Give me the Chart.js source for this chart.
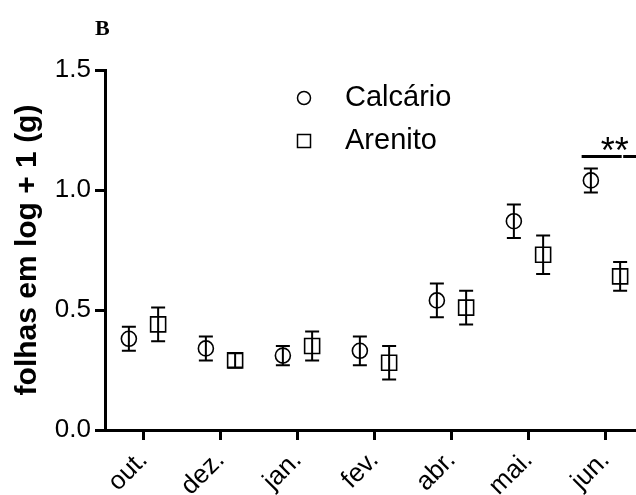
<!DOCTYPE html>
<html>
<head>
<meta charset="utf-8">
<script src="https://cdn.jsdelivr.net/npm/chart.js@4.4.0/dist/chart.umd.min.js"></script>
<style>
  html, body { margin: 0; padding: 0; background: #fff; overflow: hidden; }
  #wrap { position: relative; width: 660px; height: 495px; }
</style>
</head>
<body>
<div id="wrap"><canvas id="chart" width="660" height="495"></canvas></div>
<script>
// months on the x axis
const months = ['out.', 'dez.', 'jan.', 'fev.', 'abr.', 'mai.', 'jun.'];
// mean and error, log(x+1) of leaf mass
const calcario = [0.38, 0.34, 0.31, 0.33, 0.54, 0.87, 1.04];
const calcarioErr = [0.05, 0.05, 0.04, 0.06, 0.07, 0.07, 0.05];
const arenito = [0.44, 0.29, 0.35, 0.28, 0.51, 0.73, 0.64];
const arenitoErr = [0.07, 0.03, 0.06, 0.07, 0.07, 0.08, 0.06];
const yTicks = [0, 0.5, 1.0, 1.5];
// significance mark over jun.
const sigMonth = 6;
const sigLevel = 1.14;
const sigText = '**';

const shift = 0.19; // side-by-side offset of the two groups
const font = 'Liberation Sans, Arial, sans-serif';

function points(vals, dx) {
    return vals.map((v, i) => ({ x: i + dx, y: v }));
}

const errorBars = {
    id: 'errorBars',
    afterDatasetsDraw(chart) {
        const ctx = chart.ctx;
        const x = chart.scales.x, y = chart.scales.y;
        ctx.save();
        ctx.strokeStyle = '#000';
        ctx.lineWidth = 2;
        chart.data.datasets.forEach(ds => {
            ds.data.forEach((p, j) => {
                const e = ds.errors[j];
                const px = x.getPixelForValue(p.x);
                const top = y.getPixelForValue(p.y + e);
                const bot = y.getPixelForValue(p.y - e);
                ctx.beginPath();
                ctx.moveTo(px, top); ctx.lineTo(px, bot);
                ctx.moveTo(px - 7, top); ctx.lineTo(px + 7, top);
                ctx.moveTo(px - 7, bot); ctx.lineTo(px + 7, bot);
                ctx.stroke();
            });
        });
        ctx.restore();
    }
};

const extras = {
    id: 'extras',
    afterDraw(chart) {
        const ctx = chart.ctx;
        const x = chart.scales.x, y = chart.scales.y;
        ctx.save();
        ctx.fillStyle = '#000';
        ctx.strokeStyle = '#000';

        // panel letter
        ctx.font = 'bold 22px Liberation Serif, Times New Roman, serif';
        ctx.textBaseline = 'alphabetic';
        ctx.textAlign = 'left';
        ctx.fillText('B', 95, 35);

        // legend
        ctx.lineWidth = 1.5;
        ctx.beginPath();
        ctx.arc(304, 98, 6.5, 0, Math.PI * 2);
        ctx.stroke();
        ctx.strokeRect(297.5, 134.5, 13, 13);
        ctx.font = '29px ' + font;
        ctx.textBaseline = 'middle';
        chart.data.datasets.forEach((ds, i) => {
            ctx.fillText(ds.label, 345, 98 + i * 43);
        });

        // significance bar
        const sy = y.getPixelForValue(sigLevel);
        ctx.lineWidth = 3;
        ctx.beginPath();
        ctx.moveTo(x.getPixelForValue(sigMonth - 0.31), sy);
        ctx.lineTo(x.getPixelForValue(sigMonth + 0.21), sy);
        ctx.moveTo(x.getPixelForValue(sigMonth + 0.23), sy);
        ctx.lineTo(x.getPixelForValue(sigMonth + 0.5), sy);
        ctx.stroke();
        ctx.font = '36px ' + font;
        ctx.textAlign = 'center';
        ctx.textBaseline = 'alphabetic';
        ctx.fillText(sigText, x.getPixelForValue(sigMonth + 0.12), sy + 7);
        ctx.restore();
    }
};

new Chart(document.getElementById('chart'), {
    type: 'scatter',
    data: {
        datasets: [
            {
                label: 'Calcário',
                data: points(calcario, -shift),
                errors: calcarioErr,
                pointStyle: 'circle',
                pointRadius: 7.5,
                pointBorderWidth: 1.6,
                pointBorderColor: '#000',
                pointBackgroundColor: 'rgba(0,0,0,0)'
            },
            {
                label: 'Arenito',
                data: points(arenito, shift),
                errors: arenitoErr,
                pointStyle: 'rect',
                pointRadius: 10.6,
                pointBorderWidth: 1.6,
                pointBorderColor: '#000',
                pointBackgroundColor: 'rgba(0,0,0,0)'
            }
        ]
    },
    options: {
        responsive: false,
        animation: false,
        layout: { padding: { top: 70, right: 16, left: 0, bottom: 0 } },
        plugins: {
            legend: { display: false },
            tooltip: { enabled: false }
        },
        scales: {
            x: {
                type: 'linear',
                min: -0.5,
                max: months.length - 0.5,
                afterBuildTicks: s => { s.ticks = months.map((m, i) => ({ value: i })); },
                afterFit: s => { s.height = 65; },
                border: { display: true, color: '#000', width: 3 },
                grid: { drawOnChartArea: false, drawTicks: true, tickLength: 10, tickWidth: 3, tickColor: '#000' },
                ticks: {
                    autoSkip: false,
                    minRotation: 45,
                    maxRotation: 45,
                    padding: 5,
                    color: '#000',
                    font: { family: font, size: 26 },
                    callback: v => months[v]
                }
            },
            y: {
                min: 0,
                max: 1.5,
                afterBuildTicks: s => { s.ticks = yTicks.map(v => ({ value: v })); },
                afterFit: s => { s.width = 105; },
                border: { display: true, color: '#000', width: 3 },
                grid: { drawOnChartArea: false, drawTicks: true, tickLength: 10, tickWidth: 3, tickColor: '#000' },
                ticks: {
                    padding: 4,
                    color: '#000',
                    font: { family: font, size: 26 },
                    callback: v => v.toFixed(1)
                },
                title: {
                    display: true,
                    text: 'folhas em log + 1 (g)',
                    color: '#000',
                    font: { family: font, size: 30, weight: 'bold' },
                    padding: { top: 10, bottom: 0 }
                }
            }
        }
    },
    plugins: [errorBars, extras]
});
</script>
</body>
</html>
